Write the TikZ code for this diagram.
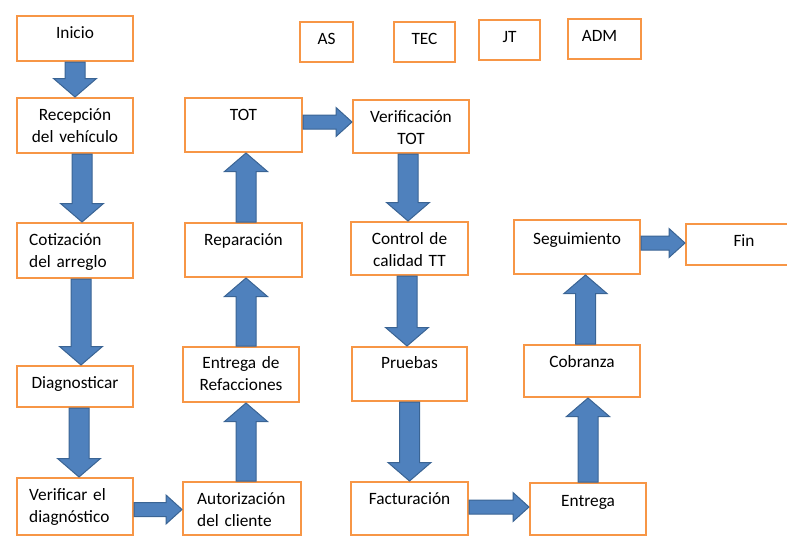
\documentclass[tikz,border=0pt]{standalone}
\usepackage{fontspec}
\setmainfont{Carlito}
\usetikzlibrary{calc}
\definecolor{boxorange}{HTML}{F79646}
\definecolor{arrowblue}{HTML}{4F81BD}
\definecolor{arrowedge}{HTML}{3A6494}
\newcommand{\blockarrow}[6]{%
  \coordinate (ba-s) at (#2);
  \coordinate (ba-e) at (ba-s #1 #3);
  \coordinate (ba-h) at ($(ba-e)!#6!(ba-s)$);
  \filldraw[blockfill] ($(ba-s)!#4!90:(ba-e)$) -- ($(ba-h)!#4!90:(ba-e)$) -- ($(ba-h)!#5!90:(ba-e)$) -- (ba-e)
    -- ($(ba-h)!#5!-90:(ba-e)$) -- ($(ba-h)!#4!-90:(ba-e)$) -- ($(ba-s)!#4!-90:(ba-e)$) -- cycle;}
\newcommand{\vblock}[2]{\blockarrow{|-}{#1}{#2}{10pt}{21.5pt}{18.5pt}}
\newcommand{\hblock}[2]{\blockarrow{-|}{#1}{#2}{7pt}{14.5pt}{16pt}}
\begin{document}
\begin{tikzpicture}[x=1pt,y=-1pt,
    box/.style={draw=boxorange, line width=2pt, fill=white, inner sep=0pt, anchor=north west},
    ctext/.style={anchor=base, yshift=-23pt, inner sep=0pt, text width=110pt, align=center,
      font=\fontsize{17.3}{22}\selectfont},
    ltext/.style={anchor=base west, yshift=-23pt, xshift=13pt, inner sep=0pt, text width=100pt, align=left,
      font=\fontsize{17.3}{22}\selectfont},
    blockfill/.style={fill=arrowblue, draw=arrowedge, line width=1pt, line join=miter}]
    \useasboundingbox (0,0) rectangle (787,536);
    \clip (0,0) rectangle (787,536);

    \node[box, minimum width=116pt, minimum height=45pt, label={[ctext]north:Inicio}] (inicio) at (16,15) {};
    \node[box, minimum width=116pt, minimum height=55pt, label={[ctext]north:{Recepción\\del vehículo}}] (recep) at (16,97) {};
    \node[box, minimum width=116pt, minimum height=55pt, label={[ltext]north west:{Cotización\\del arreglo}}] (cot) at (16,222) {};
    \node[box, minimum width=116pt, minimum height=41pt, label={[ctext]north:Diagnosticar}] (diag) at (16,365) {};
    \node[box, minimum width=116pt, minimum height=57pt, label={[ltext]north west:{Verificar el\\diagnóstico}}] (verif) at (16,477) {};

    \node[box, minimum width=118pt, minimum height=53pt, label={[ltext, xshift=2pt]north west:{Autorización\\del cliente}}] (autor) at (182,481) {};
    \node[box, minimum width=116pt, minimum height=55pt, label={[ctext, yshift=1pt]north:{Entrega de\\Refacciones}}] (entref) at (182,346) {};
    \node[box, minimum width=117pt, minimum height=54pt, label={[ctext]north:Reparación}] (rep) at (184,222) {};
    \node[box, minimum width=117pt, minimum height=54pt, label={[ctext]north:TOT}] (tot) at (184,97) {};

    \node[box, minimum width=116pt, minimum height=53pt, label={[ctext]north:{Verificación\\TOT}}] (verift) at (352,99) {};
    \node[box, minimum width=117pt, minimum height=53pt, label={[ctext]north:{Control de\\calidad TT}}] (control) at (350,221) {};
    \node[box, minimum width=115pt, minimum height=54pt, label={[ctext, yshift=1pt]north:Pruebas}] (pruebas) at (351,346) {};
    \node[box, minimum width=117pt, minimum height=53pt, label={[ctext]north:Facturación}] (fact) at (350,481) {};

    \node[box, minimum width=116pt, minimum height=52pt, label={[ctext, yshift=-1.5pt]north:Entrega}] (entrega) at (529,482) {};
    \node[box, minimum width=116pt, minimum height=52pt, label={[ctext]north:Cobranza}] (cobranza) at (523,344) {};
    \node[box, minimum width=126pt, minimum height=54pt, label={[ctext, yshift=-2pt]north:Seguimiento}] (seg) at (513,219) {};
    \node[box, minimum width=116pt, minimum height=41pt, label={[ctext]north:Fin}] (fin) at (685,223) {};

    \node[box, minimum width=53pt, minimum height=40pt, label={[ctext]north:AS}] (as) at (299,21) {};
    \node[box, minimum width=61pt, minimum height=40pt, label={[ctext]north:TEC}] (tec) at (393,21) {};
    \node[box, minimum width=61pt, minimum height=40pt, label={[ctext]north:JT}] (jt) at (478,19) {};
    \node[box, minimum width=73pt, minimum height=40pt, label={[ctext, xshift=-5pt]north:ADM}] (adm) at (567,18) {};

    \vblock{inicio.south}{recep.north}
    \vblock{[xshift=7pt]recep.south}{cot.north}
    \vblock{[xshift=6pt]cot.south}{diag.north}
    \vblock{[xshift=4pt]diag.south}{verif.north}
    \hblock{[yshift=-3pt]verif.east}{autor.west}
    \vblock{[xshift=4pt]autor.north}{entref.south}
    \vblock{[xshift=5pt]entref.north}{rep.south}
    \vblock{[xshift=2.5pt]rep.north}{tot.south}
    \hblock{[yshift=3pt]tot.east}{verift.west}
    \vblock{[xshift=-3pt]verift.south}{control.north}
    \vblock{[xshift=-2.5pt]control.south}{pruebas.north}
    \vblock{pruebas.south}{fact.north}
    \hblock{[yshift=1.5pt]fact.east}{entrega.west}
    \vblock{entrega.north}{cobranza.south}
    \vblock{[xshift=3.5pt]cobranza.north}{seg.south}
    \hblock{[yshift=4pt]seg.east}{fin.west}
\end{tikzpicture}
\end{document}
